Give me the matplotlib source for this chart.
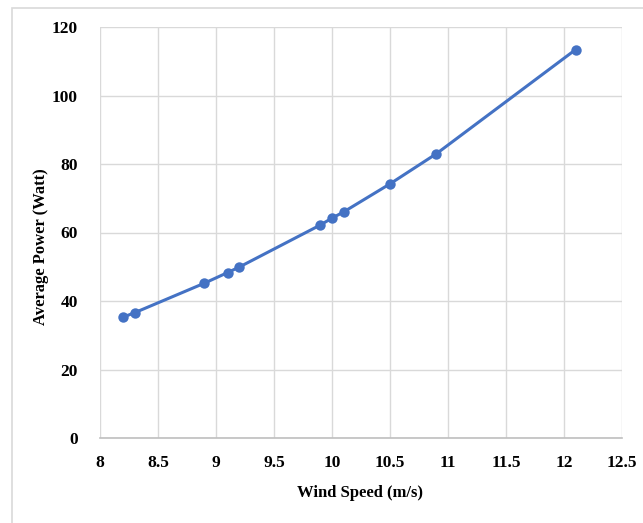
import matplotlib
matplotlib.use("Agg")
import matplotlib.pyplot as plt
from matplotlib.patches import Rectangle

wind_speed = [8.2, 8.3, 8.9, 9.1, 9.2, 9.9, 10.0, 10.1, 10.5, 10.9, 12.1]
avg_power = [35.3, 36.6, 45.2, 48.3, 49.9, 62.2, 64.2, 66.0, 74.2, 83.0, 113.4]
x_ticks = [8, 8.5, 9, 9.5, 10, 10.5, 11, 11.5, 12, 12.5]
y_ticks = [0, 20, 40, 60, 80, 100, 120]

plt.rcParams['font.family'] = ['Liberation Serif', 'DejaVu Serif']

fig = plt.figure(figsize=(6.43, 5.23), dpi=100)
fig.patches.append(Rectangle((12/643, -0.1), 1.2, 1 - 8/523 + 0.1, transform=fig.transFigure,
                             fill=False, edgecolor='#d9d9d9', linewidth=1.2))
ax = fig.add_axes([100/643, 1 - 438/523, (622-100)/643, (438-27)/523])

ax.plot(wind_speed, avg_power, color='#4472C4', linewidth=2.2, marker='o',
        markersize=7.5, markeredgewidth=0, zorder=3)

ax.set_xlim(8, 12.5)
ax.set_ylim(0, 120)
ax.set_xticks(x_ticks)
ax.set_xticklabels([f"{t:g}" for t in x_ticks])
ax.set_yticks(y_ticks)
ax.grid(True, color='#d9d9d9', linewidth=1.0)
ax.set_axisbelow(True)
for s in ['top', 'right', 'left']:
    ax.spines[s].set_visible(False)
ax.spines['bottom'].set_color('#bfbfbf')
ax.spines['bottom'].set_linewidth(1.2)
ax.tick_params(length=0, labelsize=12.5)
for lab in ax.get_xticklabels() + ax.get_yticklabels():
    lab.set_fontweight('bold')
ax.tick_params(axis='x', pad=12)
ax.tick_params(axis='y', pad=16)
ax.set_xlabel('Wind Speed (m/s)', fontsize=12, fontweight='bold')
ax.set_ylabel('Average Power (Watt)', fontsize=12, fontweight='bold')
ax.xaxis.set_label_coords((360 - 100) / 522, (438 - 493) / 411)
ax.yaxis.set_label_coords((41 - 100) / 522, (438 - 247) / 411)
ax.xaxis.label.set_verticalalignment('center')
ax.yaxis.label.set_verticalalignment('center')

fig.savefig('out.png', dpi=100)
